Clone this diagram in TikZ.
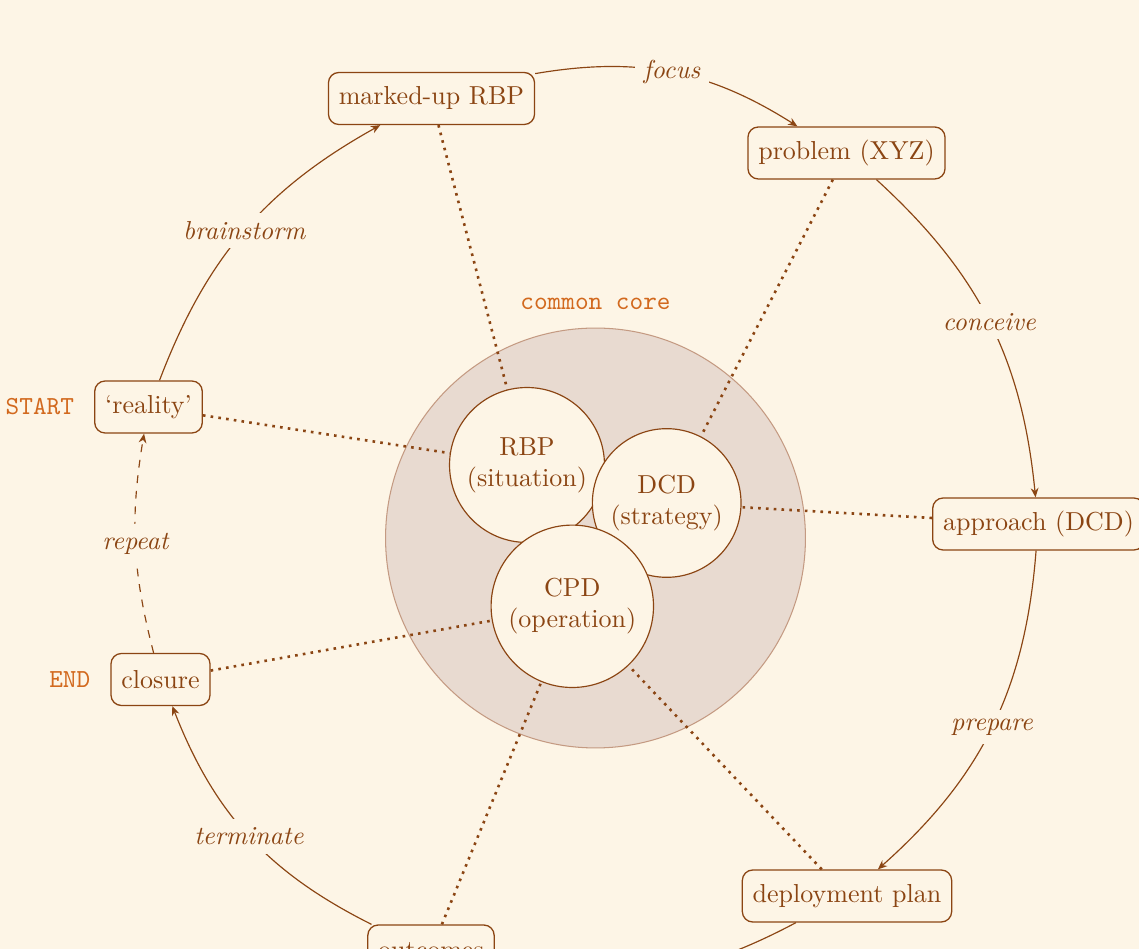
\documentclass[tikz,border=0pt]{standalone}
\usetikzlibrary{arrows.meta,positioning}
\definecolor{paper}{HTML}{FDF5E6}
\definecolor{ink}{HTML}{8B4513}
\definecolor{tagc}{HTML}{D2691E}
\definecolor{corefill}{HTML}{E8DAD0}
\definecolor{coreline}{HTML}{C49A82}
\begin{document}
\begin{tikzpicture}[x=0.384615pt, y=-0.384615pt,
  stage/.style={draw=ink, text=ink, rounded corners=4pt, minimum height=20pt,
    inner xsep=4pt, line width=0.5pt},
  facet/.style={circle, draw=ink, fill=paper, text=ink, align=center, line width=0.45pt},
  tag/.style={text=tagc, font=\ttfamily},
  flow/.style={draw=ink, line width=0.45pt, -{Stealth[length=3.6pt,width=3pt]}},
  verb/.style={fill=paper, text=ink, font=\itshape, midway},
  tie/.style={draw=ink, line width=1pt, dotted}]

% page and background
\useasboundingbox (0,0) rectangle (1139,949);
\clip (0,0) rectangle (1139,949);
\fill[paper] (0,0) rectangle (1139,949);

% shared core
\node[circle, fill=corefill, draw=coreline, line width=0.4pt, minimum size=161.5pt,
  inner sep=0pt] (core) at (595.5,538) {};
\node[tag, above=3.3pt of core] (coretag) {common core};

\node[facet] (rbp) at (527,465) {RBP\\(situation)};
\node[facet] (dcd) at (666.7,503) {DCD\\(strategy)};
\node[facet] (cpd) at (572.3,606.3) {CPD\\(operation)};

% stages around the cycle
\node[stage] (reality)  at (148.5,407)  {`reality'};
\node[stage] (markup)   at (431.5,98.5) {marked-up RBP};
\node[stage] (problem)  at (846.5,153)  {problem (XYZ)};
\node[stage] (approach) at (1038.5,524) {approach (DCD)};
\node[stage] (deploy)   at (847,896)    {deployment plan};
\node[stage] (outcomes) at (431,951)    {outcomes};
\node[stage] (closure)  at (160.5,679.5){closure};

\node[tag, left=4.2pt of reality] (starttag) {START};
\node[tag, left=4.2pt of closure] (endtag) {END};

% cycle
\draw[flow] (reality) to[bend left=20] node[verb]{brainstorm} (markup);
\draw[flow] (markup) to[bend left=21] node[verb]{focus} (problem);
\draw[flow] (problem) to[bend left=21] node[verb]{conceive} (approach);
\draw[flow] (approach) to[bend left=22] node[verb]{prepare} (deploy);
\draw[flow] (deploy) to[bend left=20] (outcomes);
\draw[flow] (outcomes) to[bend left=21] node[verb]{terminate} (closure);
\draw[flow, dashed] (closure) to[bend left=12] node[verb]{repeat} (reality);

% links to the core
\draw[tie] (markup) -- (rbp);
\draw[tie] (reality) -- (rbp);
\draw[tie] (problem) -- (dcd);
\draw[tie] (approach) -- (dcd);
\draw[tie] (closure) -- (cpd);
\draw[tie] (outcomes) -- (cpd);
\draw[tie] (deploy) -- (cpd);
\end{tikzpicture}
\end{document}
